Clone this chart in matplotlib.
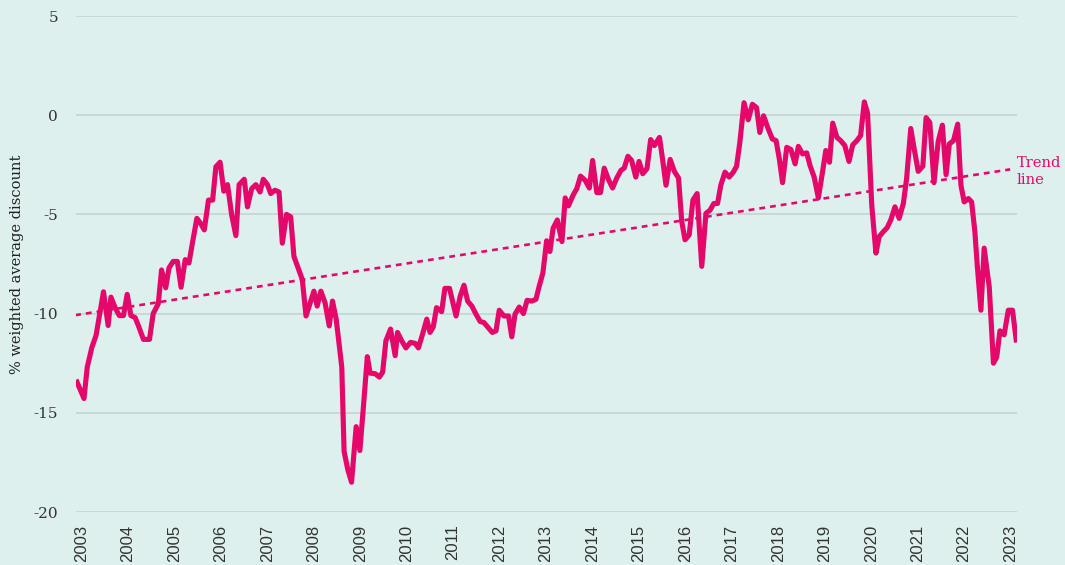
import numpy as np
import matplotlib
matplotlib.use("Agg")
import matplotlib.pyplot as plt
from matplotlib.transforms import ScaledTranslation

# monthly-ish readings, decimal years
years = [
    2003.00, 2003.15, 2003.22, 2003.32, 2003.41, 2003.57, 2003.67, 2003.73, 2003.82, 2003.91,
    2004.00, 2004.08, 2004.16, 2004.25, 2004.32, 2004.43, 2004.56, 2004.64, 2004.75, 2004.82,
    2004.91, 2004.98, 2005.07, 2005.16, 2005.24, 2005.33, 2005.41, 2005.49, 2005.58, 2005.66,
    2005.74, 2005.83, 2005.92, 2005.99, 2006.08, 2006.16, 2006.24, 2006.33, 2006.42, 2006.49,
    2006.60, 2006.67, 2006.76, 2006.85, 2006.94, 2007.01, 2007.10, 2007.17, 2007.26, 2007.35,
    2007.42, 2007.51, 2007.60, 2007.67, 2007.76, 2007.85, 2007.93, 2008.02, 2008.10, 2008.17,
    2008.25, 2008.34, 2008.43, 2008.50, 2008.58, 2008.70, 2008.75, 2008.83, 2008.91, 2009.01,
    2009.09, 2009.16, 2009.25, 2009.31, 2009.42, 2009.51, 2009.58, 2009.65, 2009.75, 2009.85,
    2009.90, 2009.99, 2010.08, 2010.18, 2010.28, 2010.35, 2010.44, 2010.53, 2010.60, 2010.67,
    2010.74, 2010.85, 2010.92, 2011.02, 2011.16, 2011.25, 2011.33, 2011.41, 2011.50, 2011.59,
    2011.68, 2011.76, 2011.85, 2011.94, 2012.02, 2012.09, 2012.19, 2012.29, 2012.36, 2012.43,
    2012.52, 2012.61, 2012.69, 2012.79, 2012.88, 2012.95, 2013.03, 2013.11, 2013.18, 2013.25,
    2013.34, 2013.44, 2013.51, 2013.58, 2013.68, 2013.76, 2013.84, 2013.94, 2014.03, 2014.10,
    2014.19, 2014.27, 2014.35, 2014.44, 2014.53, 2014.62, 2014.71, 2014.78, 2014.86, 2014.94,
    2015.03, 2015.10, 2015.18, 2015.27, 2015.35, 2015.43, 2015.54, 2015.61, 2015.68, 2015.77,
    2015.86, 2015.95, 2016.02, 2016.09, 2016.18, 2016.26, 2016.35, 2016.45, 2016.54, 2016.63,
    2016.71, 2016.79, 2016.86, 2016.95, 2017.04, 2017.13, 2017.20, 2017.27, 2017.36, 2017.45,
    2017.54, 2017.63, 2017.70, 2017.78, 2017.87, 2017.97, 2018.05, 2018.12, 2018.19, 2018.28,
    2018.37, 2018.46, 2018.53, 2018.62, 2018.71, 2018.78, 2018.87, 2018.96, 2019.05, 2019.12,
    2019.20, 2019.27, 2019.36, 2019.44, 2019.53, 2019.62, 2019.70, 2019.79, 2019.87, 2019.95,
    2020.02, 2020.11, 2020.20, 2020.27, 2020.36, 2020.44, 2020.52, 2020.61, 2020.70, 2020.79,
    2020.86, 2020.95, 2021.03, 2021.11, 2021.21, 2021.28, 2021.36, 2021.45, 2021.54, 2021.63,
    2021.71, 2021.78, 2021.87, 2021.96, 2022.03, 2022.10, 2022.19, 2022.26, 2022.33, 2022.38,
    2022.46, 2022.53, 2022.64, 2022.73, 2022.80, 2022.87, 2022.96, 2023.05, 2023.14, 2023.22,
]

discount = [
    -13.45, -14.28, -12.70, -11.70, -11.10, -8.90, -10.60, -9.17, -9.70, -10.10,
    -10.10, -9.03, -10.10, -10.20, -10.60, -11.30, -11.30, -10.00, -9.50, -7.80,
    -8.70, -7.70, -7.37, -7.37, -8.67, -7.28, -7.45, -6.37, -5.20, -5.45,
    -5.78, -4.28, -4.28, -2.60, -2.37, -3.83, -3.50, -5.03, -6.07, -3.50,
    -3.23, -4.62, -3.70, -3.50, -3.87, -3.23, -3.50, -3.95, -3.78, -3.87,
    -6.45, -5.00, -5.12, -7.12, -7.70, -8.28, -10.12, -9.45, -8.87, -9.62,
    -8.87, -9.45, -10.62, -9.37, -10.28, -12.70, -16.95, -17.87, -18.50, -15.70,
    -16.90, -14.87, -12.17, -13.00, -13.03, -13.20, -12.95, -11.37, -10.78, -12.12,
    -10.95, -11.37, -11.73, -11.45, -11.50, -11.73, -11.03, -10.28, -10.95, -10.67,
    -9.70, -9.90, -8.73, -8.73, -10.12, -9.12, -8.57, -9.37, -9.62, -10.03,
    -10.40, -10.45, -10.70, -10.95, -10.87, -9.83, -10.12, -10.12, -11.17, -10.03,
    -9.67, -10.00, -9.33, -9.37, -9.28, -8.62, -7.95, -6.33, -6.87, -5.70,
    -5.28, -6.37, -4.17, -4.57, -4.03, -3.70, -3.07, -3.28, -3.67, -2.28,
    -3.90, -3.90, -2.67, -3.23, -3.67, -3.17, -2.78, -2.67, -2.07, -2.28,
    -3.12, -2.33, -2.95, -2.70, -1.23, -1.53, -1.12, -2.28, -3.53, -2.23,
    -2.83, -3.17, -5.37, -6.28, -6.03, -4.28, -3.95, -7.62, -4.95, -4.78,
    -4.45, -4.45, -3.53, -2.87, -3.12, -2.87, -2.57, -1.37, 0.63, -0.23,
    0.55, 0.38, -0.87, -0.03, -0.62, -1.20, -1.28, -2.20, -3.40, -1.62,
    -1.73, -2.45, -1.57, -1.95, -1.90, -2.53, -3.12, -4.17, -2.87, -1.78,
    -2.37, -0.40, -1.12, -1.28, -1.53, -2.33, -1.50, -1.28, -1.03, 0.67,
    0.10, -4.53, -6.95, -6.12, -5.87, -5.67, -5.28, -4.62, -5.20, -4.45,
    -3.20, -0.67, -1.78, -2.83, -2.57, -0.12, -0.37, -3.40, -1.33, -0.50,
    -3.00, -1.45, -1.28, -0.45, -3.53, -4.37, -4.20, -4.37, -5.87, -7.53,
    -9.83, -6.70, -8.67, -12.50, -12.20, -10.87, -11.07, -9.83, -9.83, -11.33,
]

trend_years = [2002.96, 2023.09]
trend_values = [-10.08, -2.73]

year_ticks = list(range(2003, 2024))
y_ticks = [-20, -15, -10, -5, 0, 5]

bg = "#ddf0ed"
pink = "#e5086b"

fig = plt.figure(figsize=(10.65, 5.65), dpi=100, facecolor=bg)
ax = fig.add_axes([76 / 1065, 1 - 512 / 565, (1017 - 76) / 1065, (512 - 16) / 565])
ax.set_facecolor(bg)

for t in y_ticks:
    ax.axhline(t, color="#c4d0ce", lw=1.1, zorder=1)

ax.plot(years, discount, color=pink, lw=3.7, solid_joinstyle="round", zorder=3)
ax.plot(trend_years, trend_values, color=pink, lw=1.9, dashes=(2.2, 1.9), zorder=2)

ax.text(1.0, (trend_values[1] - 0.1 - (-20)) / 25, "Trend\nline", transform=ax.transAxes,
        color=pink, fontsize=10.6, family="DejaVu Serif", va="center", ha="left",
        linespacing=1.3, clip_on=False)

ax.set_xlim(2002.978, 2023.237)
ax.set_ylim(-20, 5)
ax.set_xticks(year_ticks)
ax.set_xticklabels([str(y) for y in year_ticks], rotation=90, fontsize=12,
                   family="Liberation Sans", color="#333333")
ax.set_yticks(y_ticks)
ax.set_yticklabels([str(t) for t in y_ticks], fontsize=11, family="DejaVu Serif", color="#333333")
ax.tick_params(axis="both", length=0)
ax.tick_params(axis="y", pad=13)
ax.tick_params(axis="x", pad=9)
for lbl in ax.get_xticklabels():
    lbl.set_transform(lbl.get_transform() + ScaledTranslation(0.045, 0, fig.dpi_scale_trans))

for s in ax.spines.values():
    s.set_visible(False)

ax.set_ylabel("% weighted average discount", fontsize=10.5, family="DejaVu Serif",
              color="#222222", labelpad=7)

fig.savefig("out.png", dpi=100, facecolor=bg)
